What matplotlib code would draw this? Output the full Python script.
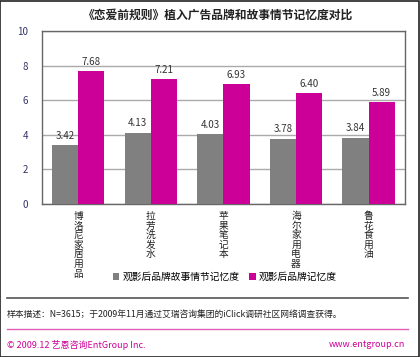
import numpy as np
import matplotlib.pyplot as plt
from matplotlib.patches import Rectangle
from matplotlib.lines import Line2D

plt.rcParams['font.family'] = ['Noto Sans CJK SC', 'DejaVu Sans']

# ============ Du lieu ============
categories = ['博洛尼家居用品', '拉芳洗发水', '苹果笔记本', '海尔家用电器', '鲁花食用油']
story_mem = [3.42, 4.13, 4.03, 3.78, 3.84]
brand_mem = [7.68, 7.21, 6.93, 6.40, 5.89]
series_names = ['观影后品牌故事情节记忆度', '观影后品牌记忆度']
yticks = [0, 2, 4, 6, 8, 10]

GRAY = '#808080'
MAGENTA = '#CC0099'

fig = plt.figure(figsize=(4.2, 3.57), dpi=100)
ax = fig.add_axes([0.1, 0.4286, 0.864, 0.4844])

x = np.arange(len(categories))
w = 0.36
b1 = ax.bar(x - w/2, story_mem, w, color=GRAY, label=series_names[0], zorder=3)
b2 = ax.bar(x + w/2, brand_mem, w, color=MAGENTA, label=series_names[1], zorder=3)

# nhan gia tri tren cot
for bars, vals in ((b1, story_mem), (b2, brand_mem)):
    for r, v in zip(bars, vals):
        ax.text(r.get_x() + r.get_width()/2, v + 0.25, f'{v:.2f}',
                ha='center', va='bottom', fontsize=7, color='#333333')

ax.set_xlim(-0.5, len(categories) - 0.5)
ax.set_ylim(0, 10)
ax.set_yticks(yticks)
ax.set_yticklabels([str(t) for t in yticks], fontsize=7, color='#333366')
ax.tick_params(axis='y', length=0, pad=10)
ax.tick_params(axis='x', length=0, pad=5)
ax.set_xticks(x)
ax.set_xticklabels(['\n'.join(c) for c in categories], fontsize=7,
                   color='#222222', va='top', linespacing=0.95)
ax.grid(axis='y', color='#aaaaaa', lw=1, zorder=0)
for s in ax.spines.values():
    s.set_color('#666666')
    s.set_linewidth(1)

fig.legend(handles=[b1, b2], loc='center', bbox_to_anchor=(0.535, 0.224),
           ncol=2, frameon=False, fontsize=7, handlelength=0.7, handleheight=0.7,
           handletextpad=0.3, columnspacing=1.0)

fig.text(0.52, 0.957, '《恋爱前规则》植入广告品牌和故事情节记忆度对比',
         ha='center', va='center', fontsize=8.5, color='#222222', fontweight='bold')

# chu thich cuoi hinh
fig.add_artist(Line2D([0.017, 0.971], [0.165, 0.165], color='#555555', lw=1.2))
fig.text(0.017, 0.120, '样本描述：N=3615；于2009年11月通过艾瑞咨询集团的iClick调研社区网络调查获得。',
         ha='left', va='center', fontsize=6.3, color='#222222')
fig.add_artist(Line2D([0.017, 0.971], [0.078, 0.078], color='#E060B8', lw=1))
fig.text(0.017, 0.034, '© 2009.12 艺恩咨询EntGroup Inc.', ha='left', va='center',
         fontsize=6.5, color=MAGENTA)
fig.text(0.965, 0.034, 'www.entgroup.cn', ha='right', va='center',
         fontsize=6.5, color=MAGENTA)

fig.add_artist(Rectangle((0.001, 0.001), 0.997, 0.997, transform=fig.transFigure,
                         fill=False, edgecolor='#222222', lw=1.2))

fig.savefig('out.png', dpi=100)
